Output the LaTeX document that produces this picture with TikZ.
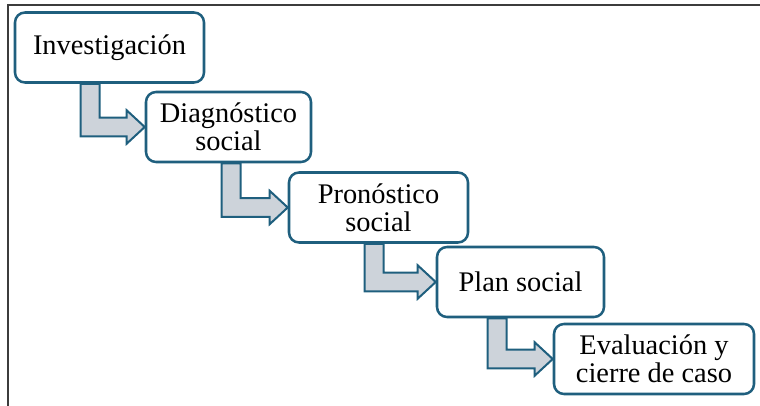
\documentclass[tikz,border=0pt]{standalone}
\usepackage{fontspec}
\setmainfont{Liberation Serif}
\usetikzlibrary{calc,backgrounds}
\definecolor{bordeazul}{HTML}{1F5F7E}
\definecolor{grisflecha}{HTML}{CDD3DA}
\definecolor{marcogris}{HTML}{3C3C3C}
\tikzset{
  etapa/.style={draw=bordeazul, line width=1.9pt, rounded corners=7.5pt, fill=white, align=center,
    inner sep=0pt, minimum height=52.5pt, font=\fontsize{21.3}{21.3}\selectfont},
  flecha/.style={draw=bordeazul, fill=grisflecha, line width=1.5pt, line join=miter},
  marco/.style={draw=marcogris, line width=1.5pt}
}
% flecha quebrada: #1 origen, #2 destino, #3 desplazamiento del tronco
\newcommand{\flechaetapa}[3]{%
  \draw[flecha] let \p1=($(#1.south west)+(#3,0)$), \p2=(#2.west) in
    (\x1,\y1) -- (\x1,{\y2-7pt}) -- ({\x2-13.5pt},{\y2-7pt}) -- ({\x2-13.5pt},{\y2-12.5pt}) -- (\x2,\y2)
    -- ({\x2-13.5pt},{\y2+12.5pt}) -- ({\x2-13.5pt},{\y2+7pt}) -- ({\x1+14.25pt},{\y2+7pt})
    -- ({\x1+14.25pt},\y1) -- cycle;}

\begin{document}
\begin{tikzpicture}[x=0.75pt, y=-0.75pt]
\useasboundingbox (0,0) rectangle (760,406);
\draw[marco] (7.5,406) -- (7.5,5) -- (760,5);
\node[etapa, minimum width=141.75pt] (inv) at (109.5,47.5) {Investigación};
\node[etapa, minimum width=123.75pt] (diag) at (228.5,127) {Diagnóstico\\social};
\node[etapa, minimum width=134.25pt] (pron) at (378.5,207.5) {Pronóstico\\social};
\node[etapa, minimum width=125.25pt] (plan) at (520.5,282) {Plan social};
\node[etapa, minimum width=150pt] (eval) at (654,359) {Evaluación y\\cierre de caso};
% flechas detras de las cajas
\begin{scope}[on background layer]
\flechaetapa{inv}{diag}{50.25pt}
\flechaetapa{diag}{pron}{57.75pt}
\flechaetapa{pron}{plan}{57.75pt}
\flechaetapa{plan}{eval}{39pt}
\end{scope}
\end{tikzpicture}
\end{document}
